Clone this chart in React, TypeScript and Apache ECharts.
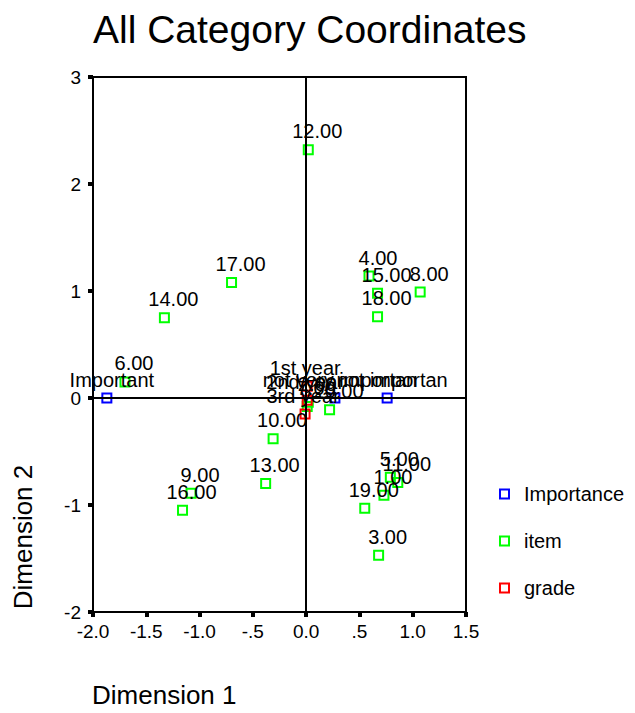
import React, { useEffect, useRef } from "react";
import * as echarts from "echarts";

const importanceNames = ["Important", "not very importan", "not importan"];
const importanceX = [-1.87, 0.27, 0.76];
const importanceY = [0, 0, 0];

const itemNames = ["1.00", "2.00", "3.00", "4.00", "5.00", "6.00", "7.00", "8.00", "9.00", "10.00", "11.00", "12.00", "13.00", "14.00", "15.00", "16.00", "17.00", "18.00", "19.00", "20.00"];
const itemX = [0.73, 0.02, 0.68, 0.59, 0.79, -1.7, 0.01, 1.07, -1.08, -0.31, 0.86, 0.02, -0.38, -1.33, 0.67, -1.16, -0.7, 0.67, 0.55, 0.22];
const itemY = [-0.91, -0.04, -1.47, 1.14, -0.74, 0.15, -0.08, 0.99, -0.89, -0.38, -0.79, 2.32, -0.8, 0.75, 0.98, -1.05, 1.08, 0.76, -1.03, -0.11];

const gradeNames = ["1st year", "2nd year", "3rd year"];
const gradeX = [0.01, 0.01, -0.01];
const gradeY = [0.11, -0.02, -0.15];

const xTickLabels = ["-2.0", "-1.5", "-1.0", "-.5", "0.0", ".5", "1.0", "1.5"];
const yTickLabels = ["-2", "-1", "0", "1", "2", "3"];
const xMin = -2, xMax = 1.5, xStep = 0.5;
const yMin = -2, yMax = 3, yStep = 1;

const FONT = "'Liberation Sans', Arial, sans-serif";

function build(names: string[], xs: number[], ys: number[]) {
  return names.map((n, i) => ({ name: n, value: [xs[i], ys[i]] }));
}

export default function App() {
  const ref = useRef<HTMLDivElement>(null);
  useEffect(() => {
    document.body.style.margin = "0";
    const chart = echarts.init(ref.current!, undefined, { renderer: "svg" });
    const labelBase = {
      show: true,
      position: "top" as const,
      distance: 3,
      formatter: "{b}",
      fontSize: 20,
      fontFamily: FONT,
      color: "#000",
      opacity: 1,
    };
    const mk = (name: string, color: string, data: any[], offsetX: number, extra: any = {}) => ({
      name,
      type: "scatter",
      symbol: "rect",
      symbolSize: 9,
      itemStyle: { color: "rgba(0,0,0,0)", borderColor: color, borderWidth: 2, opacity: 1 },
      label: { ...labelBase, offset: [offsetX, 0] },
      emphasis: { disabled: true },
      data,
      ...extra,
    });
    chart.setOption({
      animation: false,
      title: {
        text: "All Category Coordinates",
        left: 93,
        top: 10,
        padding: 0,
        textStyle: { fontSize: 39, fontWeight: "normal", fontFamily: FONT, color: "#000" },
      },
      grid: {
        left: 93,
        right: 169,
        top: 77,
        bottom: 101,
        show: true,
        borderColor: "#000",
        borderWidth: 2,
        backgroundColor: "transparent",
      },
      legend: {
        orient: "vertical",
        left: 494,
        top: 479,
        itemWidth: 9,
        itemHeight: 9,
        itemGap: 27,
        icon: "rect",
        textStyle: { fontSize: 20, fontFamily: FONT, color: "#000", padding: [0, 0, 0, 10] },
        data: ["Importance", "item", "grade"],
      },
      xAxis: {
        type: "value",
        min: xMin,
        max: xMax,
        interval: xStep,
        axisLine: { show: false, onZero: false },
        splitLine: { show: false },
        axisTick: { show: true, length: 5, lineStyle: { color: "#000", width: 4 } },
        axisLabel: {
          margin: 10,
          fontSize: 19,
          fontFamily: FONT,
          color: "#000",
          formatter: (v: number) => xTickLabels[Math.round((v - xMin) / xStep)] ?? "",
        },
      },
      yAxis: {
        type: "value",
        min: yMin,
        max: yMax,
        interval: yStep,
        axisLine: { show: false, onZero: false },
        splitLine: { show: false },
        axisTick: { show: true, length: 5, lineStyle: { color: "#000", width: 4 } },
        axisLabel: {
          margin: 12,
          fontSize: 19,
          fontFamily: FONT,
          color: "#000",
          formatter: (v: number) => yTickLabels[Math.round((v - yMin) / yStep)] ?? "",
        },
      },
      graphic: [
        {
          type: "text",
          x: 92,
          y: 695,
          style: { text: "Dimension 1", fontSize: 26, fontFamily: FONT, fill: "#000", textAlign: "left", textVerticalAlign: "middle" },
        },
        {
          type: "text",
          x: 23,
          y: 537,
          rotation: Math.PI / 2,
          style: { text: "Dimension 2", fontSize: 26, fontFamily: FONT, fill: "#000", textAlign: "center", textVerticalAlign: "middle" },
        },
      ],
      series: [
        mk("Importance", "#0000ff", build(importanceNames, importanceX, importanceY), 5, {
          markLine: {
            silent: true,
            symbol: "none",
            animation: false,
            label: { show: false },
            lineStyle: { color: "#000", width: 2, type: "solid" },
            data: [{ xAxis: 0 }, { yAxis: 0 }],
          },
        }),
        mk("item", "#00ff00", build(itemNames, itemX, itemY), 9),
        mk("grade", "#ff0000", build(gradeNames, gradeX, gradeY), -2),
      ],
    });
    return () => chart.dispose();
  }, []);
  return <div ref={ref} style={{ width: 635, height: 713 }} />;
}
